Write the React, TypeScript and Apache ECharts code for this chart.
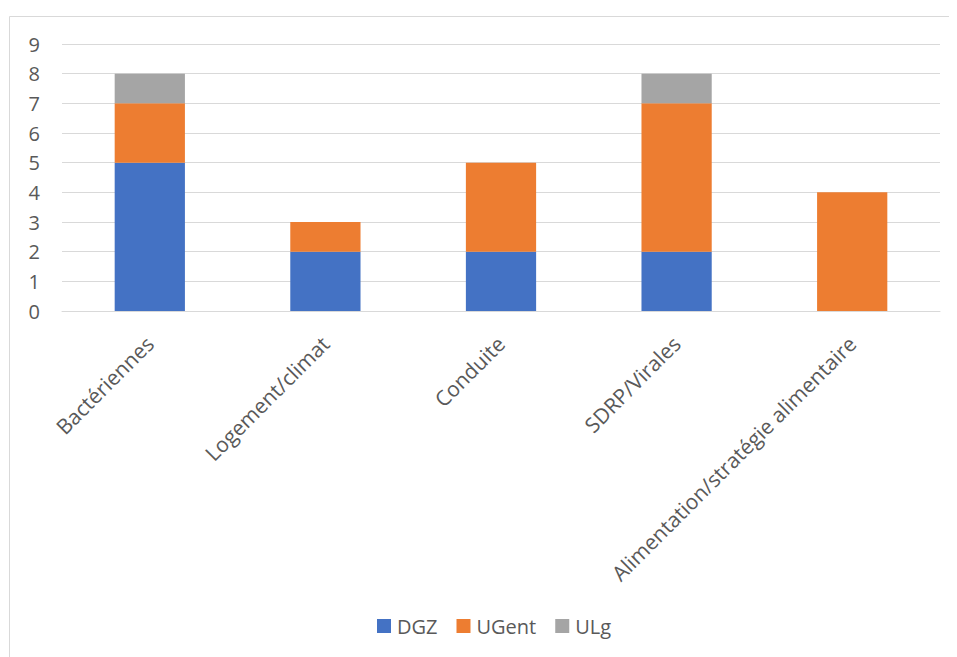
import React, { useEffect, useRef } from "react";
import * as echarts from "echarts";

const categories = [
  "Bactériennes",
  "Logement/climat",
  "Conduite",
  "SDRP/Virales",
  "Alimentation/stratégie alimentaire",
];
const dgz = [5, 2, 2, 2, 0];
const ugent = [2, 1, 3, 5, 4];
const ulg = [1, 0, 0, 1, 0];

const FONT = "'Open Sans', sans-serif";
const TXT = "#595959";

export default function App() {
  const ref = useRef<HTMLDivElement>(null);
  useEffect(() => {
    if (!ref.current) return;
    const chart = echarts.init(ref.current, undefined, { renderer: "svg" });
    const mk = (name: string, data: number[], color: string) => ({
      name,
      type: "bar",
      stack: "total",
      data,
      barWidth: "40%",
      itemStyle: { color },
      emphasis: { disabled: true },
    });
    chart.setOption({
      animation: false,
      backgroundColor: "#ffffff",
      textStyle: { fontFamily: FONT },
      graphic: [
        {
          type: "rect",
          silent: true,
          shape: { x: 1.5, y: 8.5, width: 2000, height: 2000 },
          style: { fill: "none", stroke: "#d9d9d9", lineWidth: 1 },
        },
      ],
      grid: { left: 54, right: 17, top: 36, bottom: 346 },
      legend: {
        top: 603,
        left: 364,
        itemWidth: 14,
        itemHeight: 14,
        itemGap: 19,
        icon: "rect",
        textStyle: { fontFamily: FONT, fontSize: 20, color: TXT, padding: [0, 0, 0, 1] },
        data: ["DGZ", "UGent", "ULg"],
      },
      xAxis: {
        type: "category",
        data: categories,
        axisTick: { show: false },
        axisLine: { lineStyle: { color: "#d9d9d9", width: 1 } },
        axisLabel: {
          rotate: 45,
          interval: 0,
          margin: 29,
          fontFamily: FONT,
          fontSize: 21,
          color: TXT,
        },
      },
      yAxis: {
        type: "value",
        min: 0,
        max: 9,
        interval: 1,
        axisLine: { show: false },
        axisTick: { show: false },
        splitLine: { lineStyle: { color: "#d9d9d9", width: 1 } },
        axisLabel: { margin: 22, fontFamily: FONT, fontSize: 20, color: TXT },
      },
      series: [
        mk("DGZ", dgz, "#4472C4"),
        mk("UGent", ugent, "#ED7D31"),
        mk("ULg", ulg, "#A5A5A5"),
      ],
    });
    return () => chart.dispose();
  }, []);
  return <div ref={ref} style={{ width: 949, height: 649 }} />;
}
